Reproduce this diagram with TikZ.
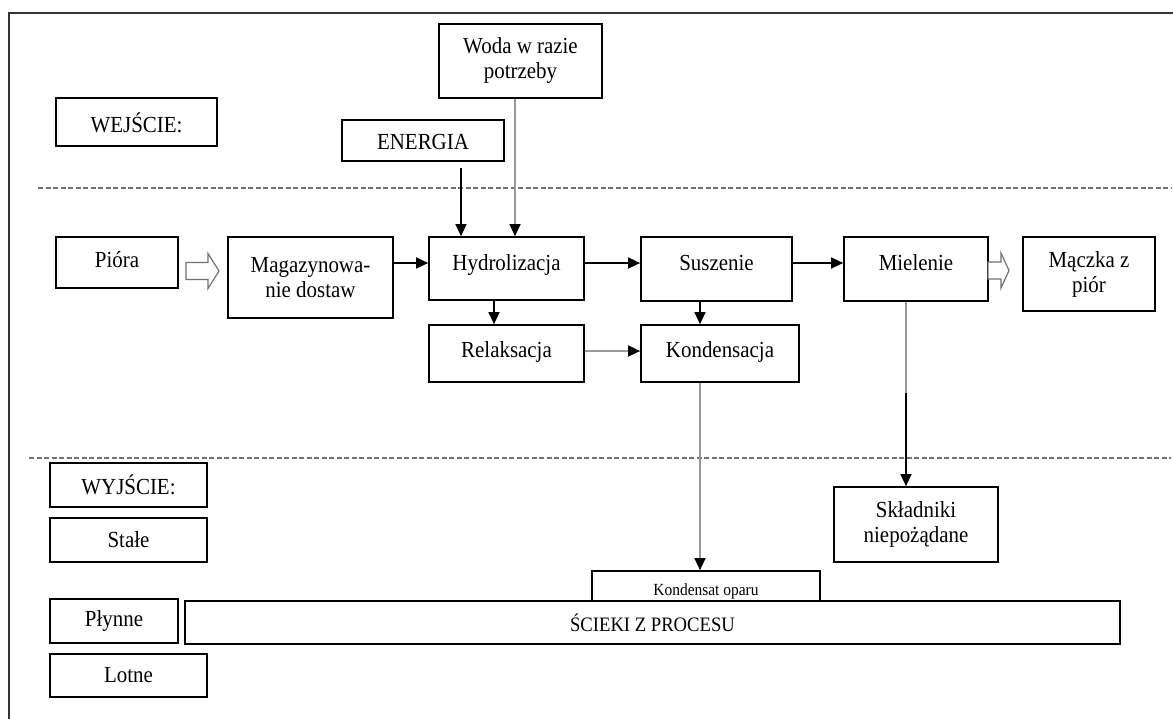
\documentclass[tikz,border=0pt]{standalone}
\usepackage{fontspec}
\setmainfont{Liberation Serif}[FakeStretch=0.91]
\usetikzlibrary{arrows.meta}
\begin{document}
\begin{tikzpicture}[x=1pt,y=-1pt,
  box/.style={draw=black, line width=1.7pt, fill=white, inner sep=0pt, align=center,
              font=\fontsize{23}{25}\selectfont},
  raise/.style={text height=15pt, text depth=#1},
  flow/.style={line width=1.4pt, -{Triangle[length=12pt,width=11pt,color=black]}},
  greyflow/.style={flow, draw=black!40},
  sep/.style={draw=black!55, line width=1.6pt, dash pattern=on 5pt off 2.5pt},
  hollowstyle/.style={draw=black!55, line width=1.2pt, fill=white, line join=miter}]

\useasboundingbox (0,0) rectangle (1173,719);
\fill[white] (0,0) rectangle (1173,719);

% outer frame (top and left edges)
\draw[line width=1.5pt, black!80] (1173,13) -- (9,13) -- (9,719);

% section separators
\draw[sep] (38,188) -- (1171,188);
\draw[sep] (29,458) -- (1171,458);

% inputs
\node[box, text height=27pt, text depth=5pt, minimum width=161, minimum height=48] (wej) at (136.5,122) {WEJŚCIE:};
\node[box, text height=24pt, text depth=5pt, minimum width=162, minimum height=41] (energia) at (423,140.5) {ENERGIA};
\node[box, minimum width=163, minimum height=74] (woda) at (520.5,61) {Woda w razie\\potrzeby};

% process chain
\node[box, raise=5pt, minimum width=122, minimum height=51] (piora) at (117,262.5) {Pióra};
\node[box, minimum width=165, minimum height=81] (mag) at (310.5,277.5) {Magazynowa-\\nie dostaw};
\node[box, raise=11pt, minimum width=155, minimum height=63] (hyd) at (506.5,268.5) {Hydrolizacja};
\node[box, raise=8pt, minimum width=155, minimum height=57] (rel) at (506.5,353.5) {Relaksacja};
\node[box, raise=12pt, minimum width=151, minimum height=64] (sus) at (716.5,269) {Suszenie};
\node[box, raise=8pt, minimum width=158, minimum height=57] (kond) at (720,353.5) {Kondensacja};
\node[box, raise=12pt, minimum width=144, minimum height=64] (miel) at (916,269) {Mielenie};
\node[box, minimum width=132, minimum height=74] (maczka) at (1089,274) {Mączka z\\piór};

% outputs
\node[box, minimum width=157, minimum height=44] (wyj) at (128.5,485) {WYJŚCIE:};
\node[box, minimum width=157, minimum height=44] (stale) at (128.5,540) {Stałe};
\node[box, minimum width=128, minimum height=44] (plynne) at (114,621) {Płynne};
\node[box, minimum width=157, minimum height=43] (lotne) at (128.5,675.5) {Lotne};
\node[box, minimum width=164, minimum height=75] (skl) at (916,524.5) {Składniki\\niepożądane};
\node[box, minimum width=228, minimum height=40, font=\fontsize{17}{19}\selectfont] (kondop) at (706,591) {Kondensat oparu};
\node[box, minimum width=935, minimum height=43, font=\fontsize{20.5}{22}\selectfont] (scieki) at (652.5,622.5) {ŚCIEKI Z PROCESU};

% material flow (hollow arrows)
\coordinate (ha1) at (186,271);
\draw[hollowstyle] (ha1) ++(0,-8.5) -- ++(22,0) -- ++(0,-9) -- ++(11,17.5) -- ++(-11,17.5)
  -- ++(0,-9) -- ++(-22,0) -- cycle;
\coordinate (ha2) at (988,270.5);
\draw[hollowstyle] (ha2) ++(0,-8.5) -- ++(13,0) -- ++(0,-9) -- ++(8,17.5) -- ++(-8,17.5)
  -- ++(0,-9) -- ++(-13,0) -- cycle;

% connectors
\coordinate (eTop) at (461,168);
\draw[flow] (eTop) -- (eTop |- hyd.north);
\coordinate (wx) at (515,0);
\draw[greyflow] (woda.south -| wx) -- (hyd.north -| wx);

\coordinate (row) at (0,263);
\draw[flow] (mag.east |- row) -- (hyd.west |- row);
\draw[flow] (hyd.east |- row) -- (sus.west |- row);
\draw[flow] (sus.east |- row) -- (miel.west |- row);

\coordinate (rx) at (494,0);
\draw[flow] (hyd.south -| rx) -- (rel.north -| rx);
\coordinate (kx) at (700,0);
\draw[flow] (sus.south -| kx) -- (kond.north -| kx);
\coordinate (row2) at (0,351);
\draw[greyflow] (rel.east |- row2) -- (kond.west |- row2);
\draw[greyflow] (kond.south -| kx) -- (kondop.north -| kx);

\coordinate (mx) at (906,393);
\draw[draw=black!40, line width=1.4pt] (miel.south -| mx) -- (mx);
\draw[flow] (mx) -- (skl.north -| mx);

\end{tikzpicture}
\end{document}
